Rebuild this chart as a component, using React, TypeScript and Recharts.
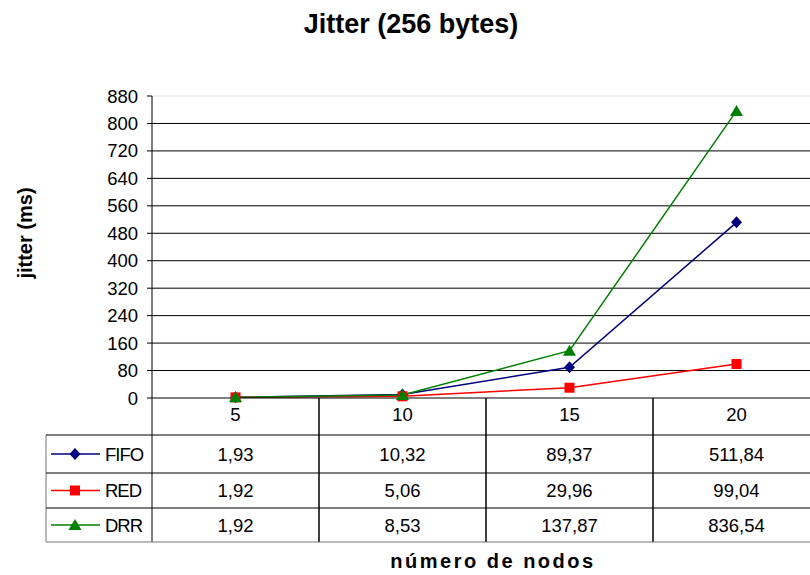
import React from "react";
import {
	LineChart,
	Line,
	XAxis,
	YAxis,
	CartesianGrid,
	ReferenceLine,
} from "recharts";

const nodes = ["5", "10", "15", "20"];
const fifo = [1.93, 10.32, 89.37, 511.84];
const red = [1.92, 5.06, 29.96, 99.04];
const drr = [1.92, 8.53, 137.87, 836.54];
const yTicks = [0, 80, 160, 240, 320, 400, 480, 560, 640, 720, 800, 880];

const seriesNames = ["FIFO", "RED", "DRR"];
const seriesColors = ["#000080", "#FF0000", "#008000"];
const seriesValues = [fifo, red, drr];

const data = nodes.map((n, i) => ({
	nodes: n,
	FIFO: fifo[i],
	RED: red[i],
	DRR: drr[i],
}));

const FONT = "'Liberation Sans', Arial, sans-serif";
const HALF = 83.5; // half column width
const ROWS = [37, 75, 110, 144]; // row bottoms below x axis
const LEGEND_LEFT = 46;

const fmt = (v: number) => v.toFixed(2).replace(".", ",");

function Marker({ kind, cx, cy, color }: { kind: number; cx: number; cy: number; color: string }) {
	if (kind === 0) {
		return (
			<polygon
				points={`${cx},${cy - 6} ${cx + 5.5},${cy} ${cx},${cy + 6} ${cx - 5.5},${cy}`}
				fill={color}
			/>
		);
	}
	if (kind === 1) {
		return <rect x={cx - 5} y={cy - 5} width={10} height={10} fill={color} />;
	}
	return (
		<polygon
			points={`${cx},${cy - 6} ${cx + 6.5},${cy + 5} ${cx - 6.5},${cy + 5}`}
			fill={color}
		/>
	);
}

const makeDot = (kind: number) => (props: any) => (
	<Marker
		key={`dot-${kind}-${props.index}`}
		kind={kind}
		cx={props.cx}
		cy={props.cy}
		color={seriesColors[kind]}
	/>
);

function TableTick(props: any) {
	const { x, y, payload, index } = props;
	const rowTops = [y + ROWS[0], y + ROWS[1], y + ROWS[2]];
	const rowBottoms = [y + ROWS[1], y + ROWS[2], y + ROWS[3]];
	return (
		<g fontFamily={FONT} fontSize={18.5} fill="#000">
			<text x={x} y={y + 23} textAnchor="middle" fill="#000">
				{payload.value}
			</text>
			<line x1={x - HALF} x2={x - HALF} y1={y} y2={y + ROWS[3]} stroke="#000" />
			<line x1={x + HALF} x2={x + HALF} y1={y} y2={y + ROWS[3]} stroke="#000" />
			{ROWS.map((r, i) => (
				<line
					key={r}
					x1={x - HALF}
					x2={x + HALF}
					y1={y + r}
					y2={y + r}
					stroke={i === 3 ? "#777" : "#000"}
				/>
			))}
			{seriesValues.map((vals, i) => (
				<text
					key={seriesNames[i]}
					x={x}
					y={(rowTops[i] + rowBottoms[i]) / 2 + 6.6}
					textAnchor="middle"
					fill="#000"
				>
					{fmt(vals[index])}
				</text>
			))}
			{index === 0 && (
				<g>
					<line x1={LEGEND_LEFT} x2={LEGEND_LEFT} y1={y + ROWS[0]} y2={y + ROWS[3]} stroke="#777" />
					{ROWS.map((r, i) => (
						<line
							key={`l${r}`}
							x1={LEGEND_LEFT}
							x2={x - HALF}
							y1={y + r}
							y2={y + r}
							stroke={i === 3 ? "#777" : "#000"}
						/>
					))}
					{seriesNames.map((name, i) => {
						const cy = (rowTops[i] + rowBottoms[i]) / 2;
						return (
							<g key={name}>
								<line x1={51} x2={100} y1={cy} y2={cy} stroke={seriesColors[i]} strokeWidth={1.5} />
								<Marker kind={i} cx={75} cy={cy} color={seriesColors[i]} />
								<text x={105} y={cy + 6.6} fill="#000" letterSpacing={-1}>
									{name}
								</text>
							</g>
						);
					})}
				</g>
			)}
		</g>
	);
}

export default function App() {
	return (
		<div
			style={{
				position: "absolute",
				left: 0,
				top: 0,
				width: 810,
				height: 575,
				overflow: "hidden",
				background: "#fff",
			}}
		>
			<LineChart
				width={830}
				height={575}
				data={data}
				margin={{ top: 96, right: 10, bottom: 0, left: 0 }}
			>
				<text
					x={411}
					y={33}
					textAnchor="middle"
					fontFamily={FONT}
					fontSize={27}
					fontWeight="bold"
					fill="#000"
				>
					Jitter (256 bytes)
				</text>
				<text
					x={32}
					y={233}
					transform="rotate(-90, 32, 233)"
					textAnchor="middle"
					fontFamily={FONT}
					fontSize={20}
					fontWeight="bold"
					fill="#000"
				>
					jitter (ms)
				</text>
				<CartesianGrid
					vertical={false}
					stroke="#000"
					horizontalValues={yTicks.slice(1, -1)}
				/>
				<ReferenceLine y={880} stroke="#e4e4e4" />
				<XAxis
					dataKey="nodes"
					type="category"
					height={177}
					padding={{ left: HALF, right: HALF }}
					interval={0}
					tickSize={0}
					tickMargin={0}
					tickLine={false}
					axisLine={{ stroke: "#000" }}
					tick={(p: any) => <TableTick {...p} />}
					label={{
						value: "número de nodos",
						position: "insideBottom",
						offset: 7,
						dx: 7,
						fontFamily: FONT,
						fontSize: 20,
						fontWeight: "bold",
						fill: "#000",
						letterSpacing: 2.5,
					}}
				/>
				<YAxis
					width={152}
					domain={[0, 880]}
					ticks={yTicks}
					interval={0}
					tickSize={5}
					tickMargin={9}
					tickLine={{ stroke: "#000" }}
					axisLine={{ stroke: "#000" }}
					tick={{ fill: "#000", fontFamily: FONT, fontSize: 18.5 }}
				/>
				{seriesNames.map((name, i) => (
					<Line
						key={name}
						dataKey={name}
						stroke={seriesColors[i]}
						strokeWidth={1.5}
						dot={makeDot(i)}
						activeDot={false}
						isAnimationActive={false}
					/>
				))}
			</LineChart>
		</div>
	);
}
